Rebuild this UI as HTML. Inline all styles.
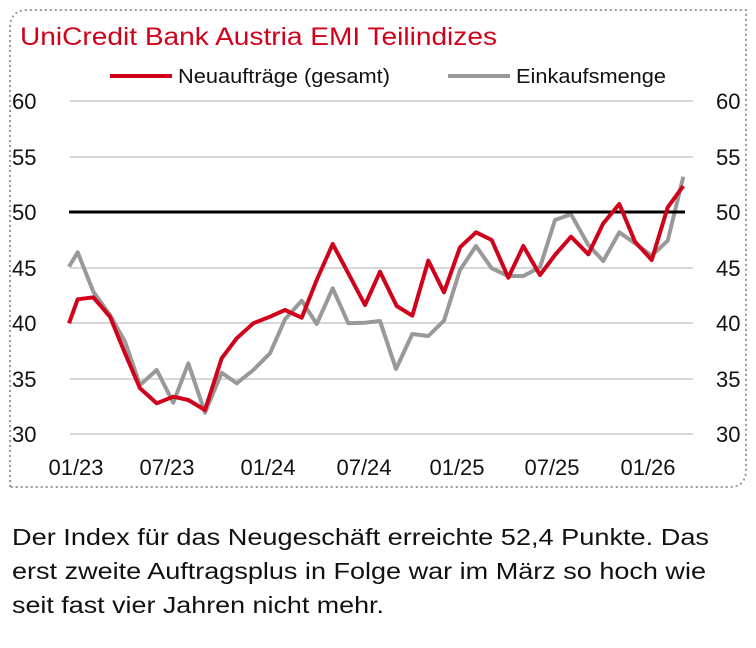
<!DOCTYPE html>
<html><head><meta charset="utf-8"><style>
body{margin:0;background:#fff;width:756px;height:643px;overflow:hidden;font-family:"Liberation Sans",sans-serif;}
</style></head><body>
<svg width="756" height="643" xmlns="http://www.w3.org/2000/svg" font-family="Liberation Sans, sans-serif">
<path d="M10,487 L10,28 Q10,10 28,10 L746,10 L746,470 Q746,487 729,487 Z" fill="none" stroke="#999" stroke-width="2" stroke-dasharray="2,3"/>
<text x="20" y="45" font-size="25" fill="#d0021b" textLength="477" lengthAdjust="spacingAndGlyphs">UniCredit Bank Austria EMI Teilindizes</text>
<line x1="110" y1="76" x2="172" y2="76" stroke="#d0021b" stroke-width="4"/>
<text x="178" y="83" font-size="20" fill="#111" textLength="212" lengthAdjust="spacingAndGlyphs">Neuaufträge (gesamt)</text>
<line x1="448" y1="76" x2="510" y2="76" stroke="#999" stroke-width="4"/>
<text x="516" y="83" font-size="20" fill="#111" textLength="150" lengthAdjust="spacingAndGlyphs">Einkaufsmenge</text>
<g stroke="#ccc" stroke-width="1.5">
<line x1="70" y1="101" x2="693" y2="101"/><line x1="70" y1="157" x2="693" y2="157"/>
<line x1="70" y1="268" x2="693" y2="268"/><line x1="70" y1="323" x2="693" y2="323"/>
<line x1="70" y1="379" x2="693" y2="379"/><line x1="70" y1="434" x2="693" y2="434"/>
</g>
<g font-size="22" fill="#111">
<text x="12" y="109">60</text><text x="12" y="165">55</text><text x="12" y="220">50</text><text x="12" y="276">45</text><text x="12" y="331">40</text><text x="12" y="387">35</text><text x="12" y="442">30</text>
<text x="716" y="109">60</text><text x="716" y="165">55</text><text x="716" y="220">50</text><text x="716" y="276">45</text><text x="716" y="331">40</text><text x="716" y="387">35</text><text x="716" y="442">30</text>
<text x="76" y="475" text-anchor="middle">01/23</text><text x="167" y="475" text-anchor="middle">07/23</text><text x="268" y="475" text-anchor="middle">01/24</text><text x="364" y="475" text-anchor="middle">07/24</text><text x="457" y="475" text-anchor="middle">01/25</text><text x="552" y="475" text-anchor="middle">07/25</text><text x="648" y="475" text-anchor="middle">01/26</text>
</g>
<polyline fill="none" stroke="#999" stroke-width="4" stroke-linejoin="round" points="69,266.7 77.7,252.3 93.3,291.7 110,315 125,341.7 140,385 156.7,370 173.3,402.7 188.3,363.3 205,412.7 221.7,372.7 236.7,383.3 253.3,370 270,353.3 285,319.3 301.7,300.7 316.7,324 332.7,288.3 348.3,323.3 365,322.7 380,321 396,369 412.3,334 428.3,336 444,320.7 460,270 476,246 491.7,268.3 508.3,276 523.3,276 540,267.3 555,220 571,214.3 588.3,245 603.3,261 619.3,232.3 635,243.3 651.7,255.7 667.7,240.7 683.3,176.7"/>
<line x1="69" y1="212" x2="685" y2="212" stroke="#000" stroke-width="3"/>
<polyline fill="none" stroke="#d0021b" stroke-width="4" stroke-linejoin="round" points="69,323.3 77.7,299.3 93.3,297.3 110,316.7 125,353.3 140,388.3 156.7,403.3 173.3,396.7 188.3,400 205,410 221.7,358.3 236.7,338.3 253.3,323.3 270,316.7 285,310 301.7,317.7 316.7,280 332.7,244 348.3,273.3 365,305 380,271.7 396.7,306 412.3,315.7 428.3,260.7 444,292.3 460,247.3 476,232.3 491.7,240 508.3,277.7 523.3,246 540,275 555,255 571,236.7 588.3,254.3 603.3,223.3 619.3,204 635,241.7 651.7,260 667.7,207.3 683.3,186"/>
<g font-size="23" fill="#111">
<text x="12" y="545" textLength="697" lengthAdjust="spacingAndGlyphs">Der Index für das Neugeschäft erreichte 52,4 Punkte. Das</text>
<text x="12" y="579" textLength="694" lengthAdjust="spacingAndGlyphs">erst zweite Auftragsplus in Folge war im März so hoch wie</text>
<text x="12" y="613" textLength="372" lengthAdjust="spacingAndGlyphs">seit fast vier Jahren nicht mehr.</text>
</g>
</svg>
</body></html>
